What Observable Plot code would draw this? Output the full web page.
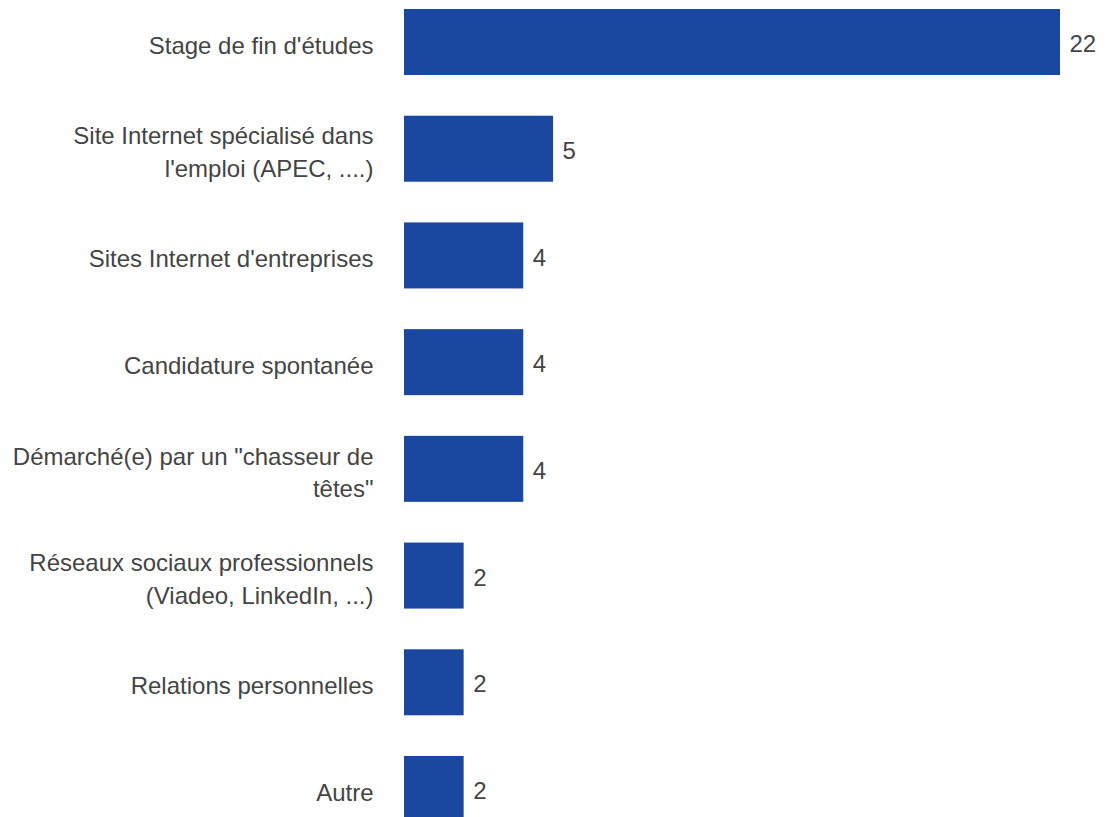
<!DOCTYPE html>
<html>
<head>
<meta charset="utf-8">
<script src="https://cdn.jsdelivr.net/npm/d3@7"></script>
<script src="https://cdn.jsdelivr.net/npm/@observablehq/plot@0.6"></script>
<style>
  html, body { margin: 0; padding: 0; background: #ffffff; overflow: hidden; }
  #chart svg { display: block; }
</style>
</head>
<body>
<div id="chart"></div>
<script>
const categories = [
  "Stage de fin d'études",
  "Site Internet spécialisé dans l'emploi (APEC, ....)",
  "Sites Internet d'entreprises",
  "Candidature spontanée",
  "Démarché(e) par un \"chasseur de têtes\"",
  "Réseaux sociaux professionnels (Viadeo, LinkedIn, ...)",
  "Relations personnelles",
  "Autre"
];
const labels = [
  "Stage de fin d'études",
  "Site Internet spécialisé dans\nl'emploi (APEC, ....)",
  "Sites Internet d'entreprises",
  "Candidature spontanée",
  "Démarché(e) par un \"chasseur de\ntêtes\"",
  "Réseaux sociaux professionnels\n(Viadeo, LinkedIn, ...)",
  "Relations personnelles",
  "Autre"
];
const values = [22, 5, 4, 4, 4, 2, 2, 2];

const data = categories.map((c, i) => ({category: c, label: labels[i], value: values[i]}));

const chart = Plot.plot({
  width: 1115,
  height: 817,
  marginLeft: 404,
  marginRight: 55,
  marginTop: 0,
  marginBottom: 0,
  style: {fontFamily: "'Liberation Sans', Arial, sans-serif", background: "#ffffff"},
  x: {domain: [0, 22], axis: null},
  y: {domain: categories, range: [0, 831], paddingInner: 0.3815, paddingOuter: 0.0843, round: false, axis: null},
  marks: [
    Plot.barX(data, {x: "value", y: "category", fill: "#1a47a0"}),
    Plot.text(data, {x: 0, y: "category", text: "label", textAnchor: "end", dx: -31, dy: 1,
      fontSize: 24, lineHeight: 1.35, fill: "#444444"}),
    Plot.text(data, {x: "value", y: "category", text: d => String(d.value), textAnchor: "start", dx: 9, dy: 2,
      fontSize: 24, fill: "#444444"})
  ]
});
document.getElementById("chart").appendChild(chart);
</script>
</body>
</html>
